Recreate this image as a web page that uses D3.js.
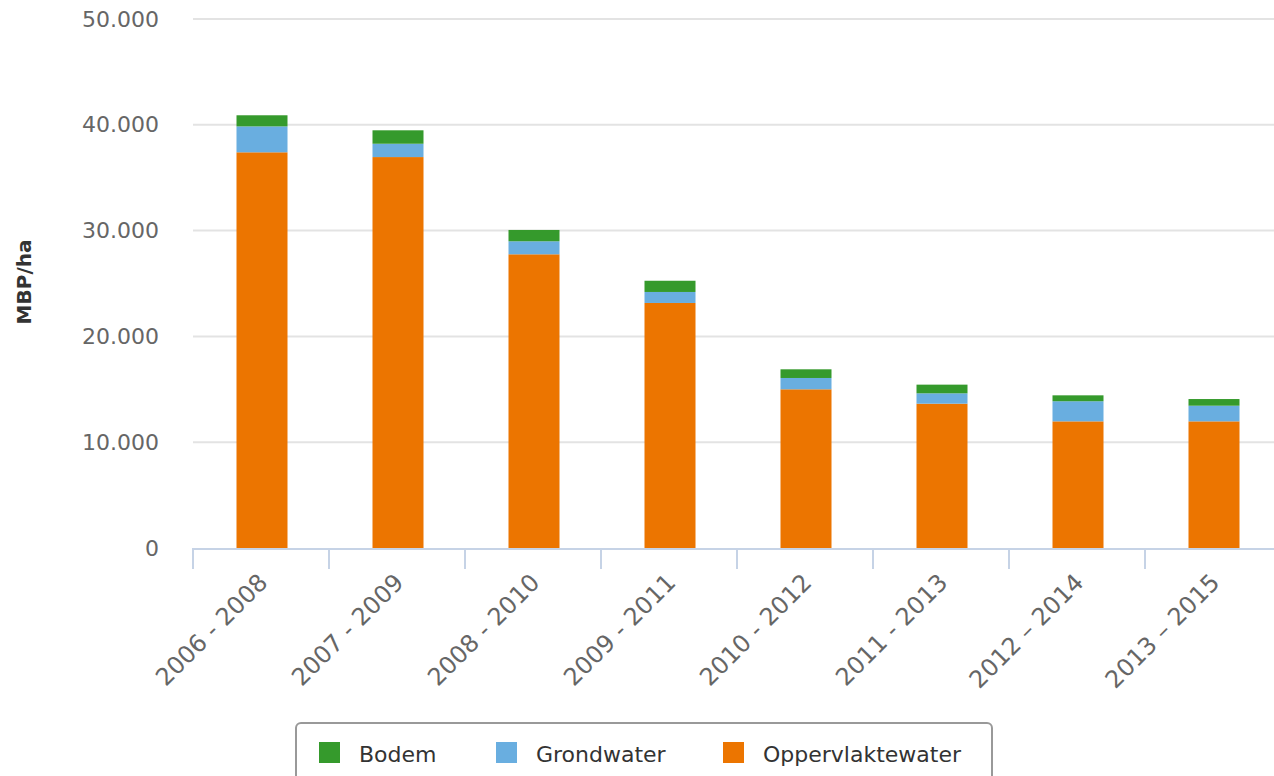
<!DOCTYPE html>
<html>
<head>
  <script src="https://d3js.org/d3.v7.min.js"></script>
  <style>
    body { margin: 0; background: #fff; }
    text { font-family: "DejaVu Sans", Verdana, sans-serif; }
    .y-axis text { font-size: 22px; fill: #666; }
    .x-axis text { font-size: 24px; fill: #666; }
    .legend text { font-size: 22px; fill: #333; }
  </style>
</head>
<body>
  <div id="chart"></div>

  <script>
    var categories = ["2006 - 2008", "2007 - 2009", "2008 - 2010", "2009 - 2011",
                      "2010 - 2012", "2011 - 2013", "2012 \u2013 2014", "2013 \u2013 2015"];
    var oppervlaktewater = [37400, 36950, 27760, 23160, 15000, 13640, 11970, 11970];
    var grondwater = [2450, 1260, 1230, 1040, 1070, 980, 1900, 1480];
    var bodem = [1050, 1270, 1070, 1060, 820, 820, 560, 630];
    var yTicks = [0, 10000, 20000, 30000, 40000, 50000];

    var seriesNames = ["Oppervlaktewater", "Grondwater", "Bodem"];
    var colors = { Bodem: "#359a2c", Grondwater: "#69aee0", Oppervlaktewater: "#ec7500" };

    var W = 1274, H = 776;
    var plot = { left: 193, right: 1281, top: 19, bottom: 548 };

    var data = categories.map(function(c, i) {
      return { cat: c, Oppervlaktewater: oppervlaktewater[i], Grondwater: grondwater[i], Bodem: bodem[i] };
    });

    var svg = d3.select("#chart").append("svg")
      .attr("width", W)
      .attr("height", H);

    var x = d3.scaleBand()
      .domain(categories)
      .range([plot.left, plot.right])
      .padding(0);

    var y = d3.scaleLinear()
      .domain([0, 50000])
      .range([plot.bottom, plot.top]);

    // grid lines
    svg.append("g")
      .selectAll("line")
      .data(yTicks.slice(1))
      .enter()
      .append("line")
      .attr("x1", plot.left)
      .attr("x2", W)
      .attr("y1", function(d) { return y(d); })
      .attr("y2", function(d) { return y(d); })
      .attr("stroke", "#e3e3e3")
      .attr("stroke-width", 2);

    // y axis labels
    var fmt = function(d) { return d3.format(",")(d).replace(/,/g, "."); };
    var yAxis = svg.append("g")
      .attr("class", "y-axis")
      .attr("transform", "translate(" + (plot.left - 34) + ",0)")
      .call(d3.axisLeft(y).tickValues(yTicks).tickFormat(fmt).tickSize(0).tickPadding(0));
    yAxis.select(".domain").remove();

    svg.append("text")
      .attr("transform", "translate(31,282) rotate(-90)")
      .attr("text-anchor", "middle")
      .style("font-size", "20px")
      .style("font-weight", "bold")
      .style("fill", "#333")
      .text("MBP/ha");

    // stacked bars
    var stack = d3.stack().keys(seriesNames);
    var layers = stack(data);
    var barW = 51;

    svg.append("g")
      .selectAll("g")
      .data(layers)
      .enter()
      .append("g")
      .attr("fill", function(d) { return colors[d.key]; })
      .selectAll("rect")
      .data(function(d) { return d; })
      .enter()
      .append("rect")
      .attr("x", function(d) { return x(d.data.cat) + (x.bandwidth() - barW) / 2 + 1; })
      .attr("y", function(d) { return y(d[1]); })
      .attr("width", barW)
      .attr("height", function(d) { return y(d[0]) - y(d[1]); });

    // x axis
    var xg = svg.append("g").attr("class", "x-axis");
    xg.append("line")
      .attr("x1", plot.left)
      .attr("x2", plot.right)
      .attr("y1", plot.bottom + 1)
      .attr("y2", plot.bottom + 1)
      .attr("stroke", "#c6d3e6")
      .attr("stroke-width", 2);
    xg.selectAll(".tickmark")
      .data(categories)
      .enter()
      .append("line")
      .attr("x1", function(d) { return x(d); })
      .attr("x2", function(d) { return x(d); })
      .attr("y1", plot.bottom)
      .attr("y2", plot.bottom + 21)
      .attr("stroke", "#c6d3e6")
      .attr("stroke-width", 2);
    xg.selectAll(".lbl")
      .data(categories)
      .enter()
      .append("text")
      .attr("text-anchor", "end")
      .attr("transform", function(d) {
        return "translate(" + (x(d) + x.bandwidth() / 2 + 8) + "," + (plot.bottom + 36) + ") rotate(-45)";
      })
      .text(function(d) { return d; });

    // legend
    var legendItems = ["Bodem", "Grondwater", "Oppervlaktewater"];
    var legendX = [319, 496, 723];
    var lg = svg.append("g").attr("class", "legend");
    lg.append("rect")
      .attr("x", 296)
      .attr("y", 723)
      .attr("width", 696)
      .attr("height", 80)
      .attr("rx", 5)
      .attr("fill", "#fff")
      .attr("stroke", "#999")
      .attr("stroke-width", 2);
    var items = lg.selectAll(".item")
      .data(legendItems)
      .enter()
      .append("g")
      .attr("transform", function(d, i) { return "translate(" + legendX[i] + ",0)"; });
    items.append("rect")
      .attr("x", 0)
      .attr("y", 742)
      .attr("width", 21)
      .attr("height", 21)
      .attr("fill", function(d) { return colors[d]; });
    items.append("text")
      .attr("x", 40)
      .attr("y", 762)
      .text(function(d) { return d; });
  </script>
</body>
</html>
